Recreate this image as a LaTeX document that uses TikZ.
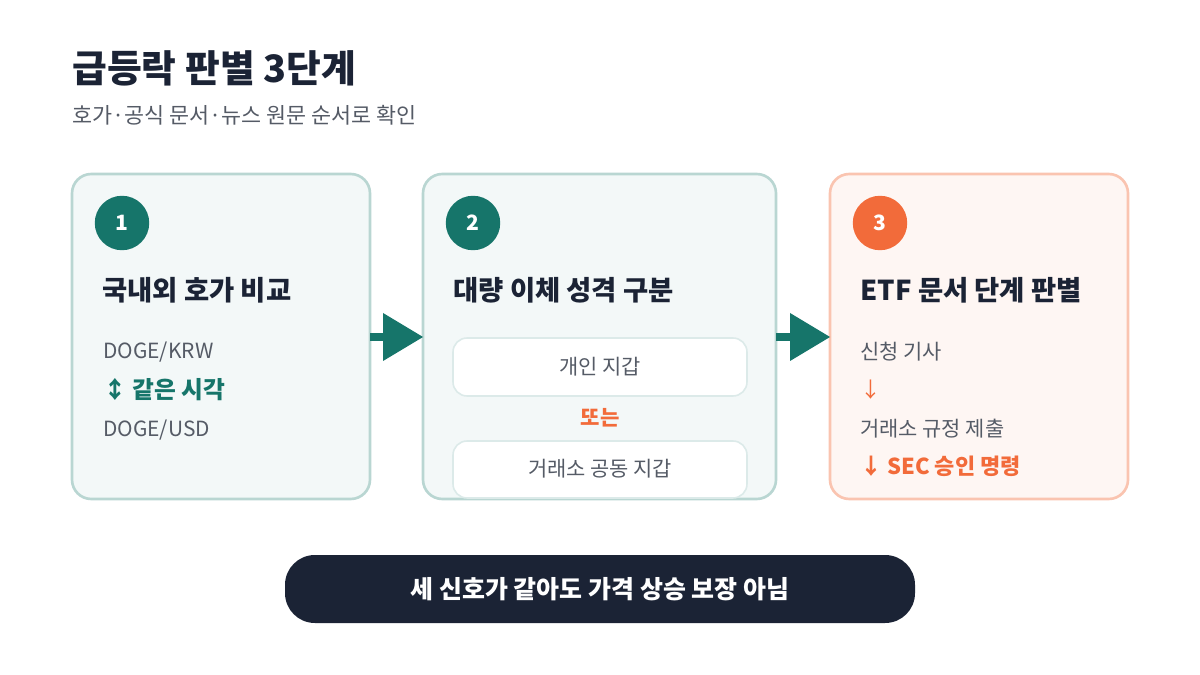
\documentclass[tikz,border=0pt]{standalone}
\usepackage{fontspec}
\setmainfont{Noto Sans CJK KR}
\definecolor{teal}{HTML}{16756A}
\definecolor{org}{HTML}{F26B3A}
\definecolor{ink}{HTML}{1B2335}
\definecolor{gr}{HTML}{555B66}
\begin{document}
\begin{tikzpicture}[x=0.02cm,y=-0.02cm,
 card/.style={draw=#1,line width=1.5pt,rounded corners=11pt},
 num/.style={circle,fill=#1,minimum size=31pt,inner sep=0,text=white,font=\fontsize{12}{14}\selectfont\bfseries},
 head/.style={anchor=west,inner sep=0,text=ink,font=\fontsize{15.6}{18}\selectfont\bfseries},
 body/.style={anchor=west,inner sep=0,text=gr,font=\fontsize{11.9}{14}\selectfont},
 sub/.style={draw=#1,fill=white,line width=0.9pt,rounded corners=8pt},
 arr/.style={fill=teal,draw=none}]
\useasboundingbox (0,0) rectangle (1200,675);
\fill[white] (0,0) rectangle (1200,675);
\node[anchor=west,inner sep=0,text=ink,font=\fontsize{21.5}{24}\selectfont\bfseries] (t) at (72,68) {급등락 판별 3단계};
\node[anchor=west,inner sep=0,text=gr,font=\fontsize{12.4}{14}\selectfont] (s) at (72,115) {호가·공식 문서·뉴스 원문 순서로 확인};
\draw[card=teal!30,fill=teal!5] (72,174) rectangle (370,499);
\draw[card=teal!30,fill=teal!5] (423,174) rectangle (776,499);
\draw[card=org!40,fill=org!6] (830,174) rectangle (1128,499);
\node[num=teal] (n1) at (122,223) {1};
\node[num=teal] (n2) at (473,223) {2};
\node[num=org] (n3) at (880,223) {3};
\node[head] (h1) at (102,290) {국내외 호가 비교};
\node[head] (h2) at (453,290) {대량 이체 성격 구분};
\node[head] (h3) at (860,290) {ETF 문서 단계 판별};
\node[body] (a1) at (103,352) {DOGE/KRW};
\node[body,text=teal,font=\fontsize{13.5}{16}\selectfont\bfseries] (a2) at (103,390) {↕ 같은 시각};
\node[body] (a3) at (103,430) {DOGE/USD};
\draw[sub=teal!15] (453,338) rectangle (747,396);
\node[body,anchor=center] (c1) at (600,367) {개인 지갑};
\node[text=org,inner sep=0,font=\fontsize{12}{14}\selectfont\bfseries] (c2) at (600,418) {또는};
\draw[sub=teal!15] (453,441) rectangle (747,498);
\node[body,anchor=center] (c3) at (600,469) {거래소 공동 지갑};
\node[body] (d1) at (860,352) {신청 기사};
\node[body,text=org] (d2) at (860,390) {↓};
\node[body] (d3) at (860,429) {거래소 규정 제출};
\node[body,text=org,font=\fontsize{12.5}{14}\selectfont\bfseries] (d4) at (860,466) {↓ SEC 승인 명령};
\fill[arr] (370,333) rectangle (386,341);
\fill[arr] (383,313) -- (423,337) -- (383,361) -- cycle;
\fill[arr] (776,333) rectangle (792,341);
\fill[arr] (790,313) -- (830,337) -- (790,361) -- cycle;
\fill[ink,rounded corners=17pt] (285,555) rectangle (915,623);
\node[text=white,inner sep=0,font=\fontsize{14.2}{16}\selectfont\bfseries] (p) at (600,589) {세 신호가 같아도 가격 상승 보장 아님};
\end{tikzpicture}
\end{document}
